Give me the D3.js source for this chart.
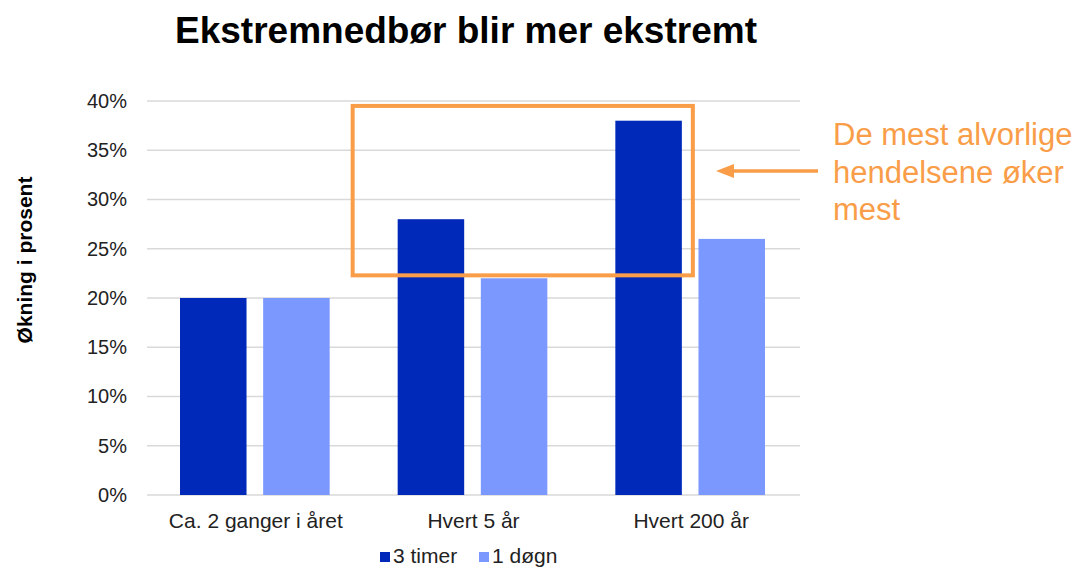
<!DOCTYPE html>
<html>
<head>
<meta charset="utf-8">
<script src="https://cdn.jsdelivr.net/npm/d3@7"></script>
<style>
  body { margin: 0; background: #fff; }
  text { font-family: "Liberation Sans", Arial, sans-serif; }
</style>
</head>
<body>
<div id="chart"></div>
<script>
// chart data
var categories = ["Ca. 2 ganger i året", "Hvert 5 år", "Hvert 200 år"];
var seriesNames = ["3 timer", "1 døgn"];
var timer3 = [20, 28, 38];
var dogn1 = [20, 22, 26];
var yTicks = [0, 5, 10, 15, 20, 25, 30, 35, 40];
var colors = ["#0029b9", "#7b98ff"];
var orange = "#f99d48";

var data = categories.map(function (c, i) {
    return { cat: c, values: [timer3[i], dogn1[i]] };
});

var W = 1080, H = 567;
var margin = { top: 101, right: 280, bottom: 72, left: 147 },
    width = W - margin.left - margin.right,
    height = H - margin.top - margin.bottom;

var svg = d3.select("#chart")
    .append("svg")
    .attr("width", W)
    .attr("height", H);

// title
svg.append("text")
    .attr("x", 466)
    .attr("y", 43)
    .attr("text-anchor", "middle")
    .style("font-size", "37px")
    .style("font-weight", "bold")
    .attr("fill", "#000")
    .text("Ekstremnedbør blir mer ekstremt");

var g = svg.append("g")
    .attr("transform", "translate(" + margin.left + "," + margin.top + ")");

var x = d3.scaleBand()
    .domain(categories)
    .range([0, width])
    .paddingInner(0)
    .paddingOuter(0);

var xInner = d3.scaleBand()
    .domain(seriesNames)
    .range([33, x.bandwidth() - 35])
    .paddingInner(0.2);

var y = d3.scaleLinear()
    .domain([0, 40])
    .range([height, 0]);

// gridlines
g.append("g")
    .selectAll("line")
    .data(yTicks)
    .enter()
    .append("line")
    .attr("x1", 0)
    .attr("x2", width)
    .attr("y1", function (d) { return y(d); })
    .attr("y2", function (d) { return y(d); })
    .attr("stroke", "#d9d9d9")
    .attr("stroke-width", 1.5);

// y axis labels
var yAxis = g.append("g")
    .call(d3.axisLeft(y).tickValues(yTicks).tickSize(0).tickPadding(20)
        .tickFormat(function (d) { return d + "%"; }));
yAxis.select(".domain").remove();
yAxis.selectAll("text")
    .style("font-size", "20px")
    .style("font-family", "'Liberation Sans', Arial, sans-serif")
    .attr("fill", "#222");

// x axis labels
var xAxis = g.append("g")
    .attr("transform", "translate(0," + height + ")")
    .call(d3.axisBottom(x).tickSize(0).tickPadding(18));
xAxis.select(".domain").remove();
xAxis.selectAll("text")
    .style("font-size", "21px")
    .style("font-family", "'Liberation Sans', Arial, sans-serif")
    .attr("fill", "#222");

// bars
g.append("g")
    .selectAll("g")
    .data(data)
    .enter()
    .append("g")
    .attr("transform", function (d) { return "translate(" + x(d.cat) + ",0)"; })
    .selectAll("rect")
    .data(function (d) { return d.values.map(function (v, i) { return { s: seriesNames[i], v: v, i: i }; }); })
    .enter()
    .append("rect")
    .attr("x", function (d) { return xInner(d.s); })
    .attr("width", xInner.bandwidth())
    .attr("y", function (d) { return y(d.v); })
    .attr("height", function (d) { return height - y(d.v); })
    .attr("fill", function (d) { return colors[d.i]; });

// y axis title
svg.append("text")
    .attr("transform", "translate(32,260)rotate(-90)")
    .attr("text-anchor", "middle")
    .style("font-size", "21px")
    .style("font-weight", "bold")
    .attr("fill", "#000")
    .text("Økning i prosent");

// annotation box around the two largest groups
var boxLeft = x(categories[1]) - 12,
    boxRight = x(categories[2]) + xInner(seriesNames[0]) + xInner.bandwidth() + 11;
g.append("rect")
    .attr("x", boxLeft)
    .attr("y", y(39.5))
    .attr("width", boxRight - boxLeft)
    .attr("height", y(22.3) - y(39.5))
    .attr("fill", "none")
    .attr("stroke", orange)
    .attr("stroke-width", 4);

// arrow
var arrowY = 171;
svg.append("line")
    .attr("x1", 818)
    .attr("x2", 730)
    .attr("y1", arrowY)
    .attr("y2", arrowY)
    .attr("stroke", orange)
    .attr("stroke-width", 3.5);
svg.append("path")
    .attr("d", "M716," + arrowY + " L734," + (arrowY - 7) + " L734," + (arrowY + 7) + " Z")
    .attr("fill", orange);

// annotation text
var noteLines = ["De mest alvorlige", "hendelsene øker", "mest"];
svg.append("g")
    .selectAll("text")
    .data(noteLines)
    .enter()
    .append("text")
    .attr("x", 833)
    .attr("y", function (d, i) { return 145 + i * 37.5; })
    .style("font-size", "31px")
    .attr("fill", orange)
    .text(function (d) { return d; });

// legend
var legend = svg.append("g").attr("transform", "translate(380,552)");
var legendX = [0, 99];
seriesNames.forEach(function (s, i) {
    legend.append("rect")
        .attr("x", legendX[i])
        .attr("y", 0)
        .attr("width", 10)
        .attr("height", 10)
        .attr("fill", colors[i]);
    legend.append("text")
        .attr("x", legendX[i] + 13)
        .attr("y", 11)
        .style("font-size", "21px")
        .attr("fill", "#222")
        .text(s);
});
</script>
</body>
</html>
